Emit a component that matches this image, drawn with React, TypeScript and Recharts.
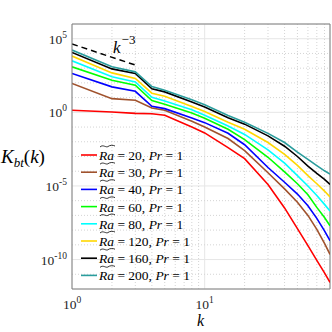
import React from "react";
import {
  LineChart,
  Line,
  XAxis,
  YAxis,
  CartesianGrid,
  ReferenceLine,
} from "recharts";

// wavenumbers sampled off the figure
const kValues = [1, 2, 3, 4, 5, 8, 10, 15, 20, 30, 40, 50, 60, 70, 80, 88];

const ra20 = [1.38, 1.05, 0.85, 0.81, 0.63, 0.1, 0.04, 4e-3, 7.1e-4, 1.26e-5, 3.2e-7, 1.26e-8, 8.9e-10, 8.9e-11, 1.26e-11, 2.8e-12];
const ra30 = [91, 8.5, 6.6, 1.95, 1.38, 0.251, 0.1, 0.0166, 2.5e-3, 7.9e-5, 6.3e-6, 7.9e-7, 1e-7, 1.12e-8, 1.26e-9, 2.24e-10];
const ra40 = [437, 53.7, 26.9, 2.57, 1.78, 0.417, 0.2, 0.038, 6.3e-3, 1.78e-4, 1.78e-5, 2.8e-6, 4.5e-7, 6.3e-8, 8.9e-9, 1.9e-9];
const ra60 = [1230, 151, 69, 6.3, 3.55, 0.89, 0.4, 0.0708, 0.0141, 8.9e-4, 8.9e-5, 1.41e-5, 2.5e-6, 3.5e-7, 7.1e-8, 2e-8];
const ra80 = [3160, 257, 117, 10.5, 5.9, 1.51, 0.63, 0.117, 0.0316, 2.8e-3, 3.5e-4, 5e-5, 1e-5, 2.24e-6, 5.6e-7, 2e-7];
const ra120 = [6610, 479, 200, 20, 12.3, 2.5, 1.12, 0.209, 0.0708, 0.0089, 1.41e-3, 2.5e-4, 5e-5, 1.41e-5, 4.5e-6, 1.78e-6];
const ra160 = [11700, 891, 437, 39.8, 24.5, 5.0, 2.29, 0.427, 0.158, 0.0251, 5e-3, 1e-3, 2.24e-4, 7.1e-5, 2.8e-5, 1.26e-5];
const ra200 = [17000, 1230, 562, 56.2, 31.6, 7.24, 3.24, 0.603, 0.214, 0.0372, 0.0089, 2e-3, 6.3e-4, 2.4e-4, 1.07e-4, 6.3e-5];

const series = [
  { key: "ra20", ra: 20, color: "#ff0000", values: ra20 },
  { key: "ra30", ra: 30, color: "#a0522d", values: ra30 },
  { key: "ra40", ra: 40, color: "#0000ff", values: ra40 },
  { key: "ra60", ra: 60, color: "#00ff00", values: ra60 },
  { key: "ra80", ra: 80, color: "#00ffff", values: ra80 },
  { key: "ra120", ra: 120, color: "#ffd700", values: ra120 },
  { key: "ra160", ra: 160, color: "#000000", values: ra160 },
  { key: "ra200", ra: 200, color: "#2a9d9d", values: ra200 },
];

// k^-3 reference slope
const slopeK = [1, 3];
const slopeVals = [4.4e4, 1.63e3];

const xTicks = [1, 10];
const yTicks = [1e-10, 1e-5, 1, 1e5];
const xMinor = [2, 3, 4, 5, 6, 7, 8, 9, 20, 30, 40, 50, 60, 70, 80];
const yMinor = [1e-11, 1e-9, 1e-8, 1e-7, 1e-6, 1e-4, 1e-3, 1e-2, 1e-1, 1e1, 1e2, 1e3, 1e4];

const data = kValues.map((k, i) => {
  const row: Record<string, number> = { k };
  series.forEach((s) => (row[s.key] = s.values[i]));
  return row;
});
const slopeData = slopeK.map((k, i) => ({ k, v: slopeVals[i] }));

const serif = "'Liberation Serif', 'DejaVu Serif', serif";
const axisGray = "#7f7f7f";

const XTick = (props: any) => {
  const { x, y, payload } = props;
  const e = Math.round(Math.log10(payload.value));
  return (
    <text x={x} y={y + 20} textAnchor="middle" fontFamily={serif} fontSize={13.5} fill="#262626">
      10
      <tspan dy={-6} fontSize={9.5}>{e}</tspan>
    </text>
  );
};

const YTick = (props: any) => {
  const { x, y, payload } = props;
  const e = Math.round(Math.log10(payload.value));
  return (
    <text x={x - 5} y={y + 5} textAnchor="end" fontFamily={serif} fontSize={13.5} fill="#262626">
      10
      <tspan dy={-6} fontSize={9.5}>{e}</tspan>
    </text>
  );
};

function LegendBox() {
  return (
    <svg
      width={140}
      height={150}
      style={{ position: "absolute", left: 76, top: 144, overflow: "visible" }}
    >
      {series.map((s, i) => {
        const cy = 11 + i * 17.2;
        return (
          <g key={s.key}>
            <line x1={5} x2={21} y1={cy} y2={cy} stroke={s.color} strokeWidth={1.6} />
            <path
              d={`M24,${cy - 8} C27,${cy - 11} 30,${cy - 7} 32,${cy - 8.5} S37,${cy - 10} 39,${cy - 9}`}
              fill="none"
              stroke="#000"
              strokeWidth={0.8}
            />
            <text x={23} y={cy + 5} fontFamily={serif} fontSize={13.5} fill="#000">
              <tspan fontStyle="italic">Ra</tspan>
              {` = ${s.ra}, `}
              <tspan fontStyle="italic">Pr</tspan>
              {" = 1"}
            </text>
          </g>
        );
      })}
    </svg>
  );
}

export default function App() {
  return (
    <div
      style={{
        position: "absolute",
        left: 0,
        top: 0,
        width: 332,
        height: 332,
        background: "#fff",
        fontFamily: serif,
      }}
    >
      <LineChart
        width={332}
        height={332}
        data={data}
        margin={{ top: 24, right: 2, left: 0, bottom: 0 }}
      >
        <CartesianGrid stroke="#e6e6e6" horizontal vertical />
        {yMinor.map((v) => (
          <ReferenceLine key={`ym${v}`} y={v} stroke="#d4d4d4" strokeDasharray="1 2" />
        ))}
        {xMinor.map((v) => (
          <ReferenceLine key={`xm${v}`} x={v} stroke="#d4d4d4" strokeDasharray="1 2" />
        ))}
        <XAxis
          dataKey="k"
          type="number"
          scale="log"
          domain={[1, 88]}
          ticks={xTicks}
          allowDataOverflow
          height={43}
          tickLine={false}
          tickSize={0}
          tickMargin={0}
          axisLine={{ stroke: axisGray }}
          tick={<XTick />}
        />
        <YAxis
          type="number"
          scale="log"
          domain={[1e-12, 1e6]}
          ticks={yTicks}
          allowDataOverflow
          width={72}
          tickLine={false}
          tickSize={0}
          tickMargin={0}
          axisLine={{ stroke: axisGray }}
          tick={<YTick />}
        />
        <ReferenceLine y={1e6} stroke={axisGray} ifOverflow="visible" />
        <ReferenceLine x={88} stroke={axisGray} ifOverflow="visible" />
        {series.map((s) => (
          <Line
            key={s.key}
            type="linear"
            dataKey={s.key}
            stroke={s.color}
            strokeWidth={1.6}
            dot={false}
            isAnimationActive={false}
          />
        ))}
        <Line
          data={slopeData}
          type="linear"
          dataKey="v"
          stroke="#000"
          strokeWidth={1.5}
          strokeDasharray="6 4"
          dot={false}
          isAnimationActive={false}
        />
      </LineChart>

      <LegendBox />

      <div
        style={{
          position: "absolute",
          left: 113,
          top: 38,
          fontSize: 17,
          fontStyle: "italic",
          lineHeight: "20px",
        }}
      >
        k
        <span style={{ fontStyle: "normal", fontSize: 13, position: "relative", top: -9, marginLeft: 1 }}>
          −3
        </span>
      </div>

      <div
        style={{
          position: "absolute",
          left: 1,
          top: 146,
          fontSize: 19,
          lineHeight: "22px",
          whiteSpace: "nowrap",
        }}
      >
        <span style={{ fontStyle: "italic" }}>K</span>
        <span style={{ fontStyle: "italic", fontSize: 13, position: "relative", top: 4 }}>bt</span>
        (<span style={{ fontStyle: "italic" }}>k</span>)
      </div>

      <div
        style={{
          position: "absolute",
          left: 197,
          top: 313,
          fontSize: 16,
          fontStyle: "italic",
          lineHeight: "15px",
        }}
      >
        k
      </div>
    </div>
  );
}
